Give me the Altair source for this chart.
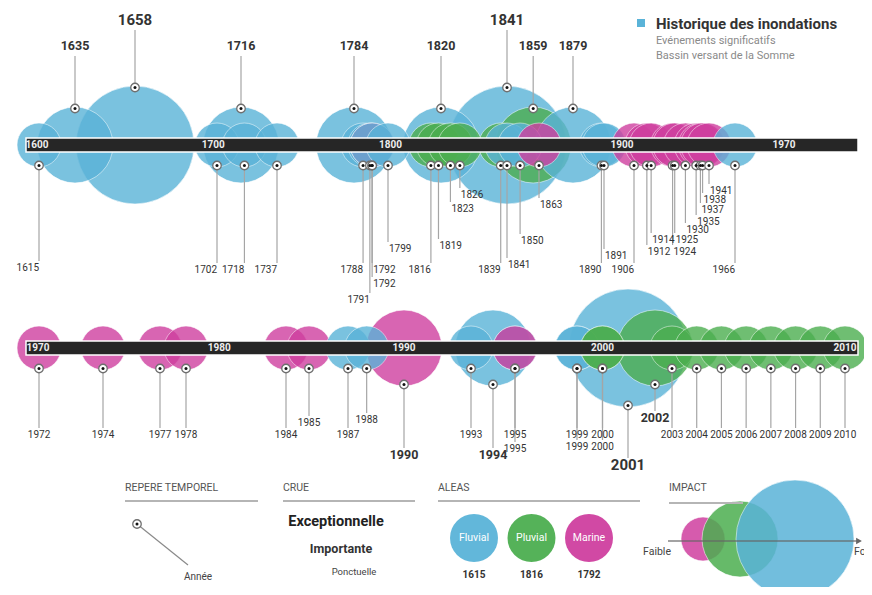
import altair as alt
import pandas as pd

# ---------------- data ----------------
# upper timeline (1600-1970)
top_years = [1615, 1635, 1658, 1702, 1716, 1718, 1737, 1784, 1788, 1791, 1792, 1792, 1799,
             1816, 1819, 1820, 1823, 1826, 1839, 1841, 1841, 1850, 1859, 1863, 1879,
             1890, 1891, 1906, 1912, 1914, 1924, 1925, 1930, 1935, 1937, 1938, 1941, 1966]
top_alea = ['F', 'F', 'F', 'F', 'F', 'F', 'F', 'F', 'F', 'F', 'M', 'F', 'F',
            'P', 'P', 'F', 'P', 'P', 'P', 'F', 'F', 'F', 'P', 'M', 'F',
            'F', 'F', 'M', 'M', 'M', 'M', 'M', 'M', 'M', 'M', 'M', 'M', 'F']
top_crue = ['p', 'i', 'e', 'p', 'i', 'p', 'p', 'i', 'p', 'p', 'p', 'p', 'p',
            'p', 'p', 'i', 'p', 'p', 'p', 'e', 'p', 'p', 'i', 'p', 'i',
            'p', 'p', 'p', 'p', 'p', 'p', 'p', 'p', 'p', 'p', 'p', 'p', 'p']
top_ticks = [1600, 1700, 1800, 1900, 1970]

# lower timeline (1970-2010)
bot_years = [1972, 1974, 1977, 1978, 1984, 1985, 1987, 1988, 1990, 1993, 1994, 1995, 1995,
             1999, 1999, 2000, 2000, 2001, 2002, 2003, 2004, 2005, 2006, 2007, 2008, 2009, 2010]
bot_alea = ['M', 'M', 'M', 'M', 'M', 'M', 'F', 'F', 'M', 'F', 'F', 'F', 'M',
            'F', 'F', 'P', 'P', 'F', 'P', 'P', 'P', 'P', 'P', 'P', 'P', 'P', 'P']
bot_crue = ['p', 'p', 'p', 'p', 'p', 'p', 'p', 'p', 'i', 'p', 'i', 'p', 'p',
            'p', 'p', 'p', 'p', 'e', 'i', 'p', 'p', 'p', 'p', 'p', 'p', 'p', 'p']
bot_ticks = [1970, 1980, 1990, 2000, 2010]

alea_names = ['Fluvial', 'Pluvial', 'Marine']
alea_examples = ['1615', '1816', '1792']
crue_names = ['Ponctuelle', 'Importante', 'Exceptionnelle']
impact_alea = ['Marine', 'Pluvial', 'Fluvial']

# ---------------- layout (label placement, scale anchors) ----------------
top_label_dy = [123, -99, -125, 125, -99, 125, 125, -99, 125, 155, 125, 139, 104,
                125, 101, -99, 64, 50, 125, -125, 120, 96, -99, 60, -99,
                125, 111, 125, 107, 95, 107, 95, 85, 77, 65, 55, 46, 125]
top_label_align = ['r', 'c', 'c', 'r', 'c', 'r', 'r', 'c', 'r', 'r', 'l', 'l', 'l',
                   'r', 'l', 'c', 'l', 'l', 'r', 'c', 'l', 'l', 'c', 'l', 'c',
                   'r', 'l', 'r', 'l', 'l', 'l', 'l', 'l', 'l', 'l', 'l', 'l', 'r']
bot_label_dy = [87, 87, 87, 87, 87, 75, 87, 72, 107, 87, 107, 101, 87,
                87, 99, 87, 99, 117, 70, 87, 87, 87, 87, 87, 87, 87, 87]
bot_label_align = ['c'] * len(bot_years)

top_anchor_years = [1600, 1615, 1635, 1658, 1702, 1737, 1784, 1799, 1820, 1841, 1863, 1879, 1891, 1906, 1941, 1966, 1970]
top_anchor_px = [29, 31, 67, 127, 209, 269, 346, 380, 433, 499, 531, 565, 596, 626, 701, 727, 776]
bot_anchor_years = [1970, 1972, 1974, 1977, 1978, 1984, 1985, 1987, 1990, 1993, 1995, 1999, 2001, 2002, 2003, 2010]
bot_anchor_px = [30, 31, 95, 152, 178, 278, 301, 340, 396, 463, 507, 569, 620, 647, 664, 837]

W, H = 856, 579
TOP_BASE, BOT_BASE = 137, 340
FONT = 'Roboto'
ALEA = {'F': 'Fluvial', 'P': 'Pluvial', 'M': 'Marine'}
CRUE = {'p': 'Ponctuelle', 'i': 'Importante', 'e': 'Exceptionnelle'}
RADIUS = {'Ponctuelle': 22, 'Importante': 38, 'Exceptionnelle': 59}
ZORD = {'Exceptionnelle': 0, 'Importante': 1, 'Ponctuelle': 2}

COLOR = alt.Scale(domain=alea_names, range=['#5ab3d8', '#4cae50', '#cf3f9f'])
YS = alt.Scale(domain=[0, H], range=[0, H], nice=False, zero=False)


def area(crue):
    # Vega circle symbol: radius = sqrt(size) / 2
    return (2 * RADIUS[crue]) ** 2


def events_frame(years, aleas, crues, dys, aligns, base):
    rows = []
    for y, a, c, dy, al in zip(years, aleas, crues, dys, aligns):
        crue = CRUE[c]
        r = RADIUS[crue] - 1.5
        above = dy < 0
        dot_y = base - r if above else base + r
        lab_y = base + dy
        l2 = lab_y + 10 if above else lab_y - 7
        rows.append(dict(year=y, alea=ALEA[a], crue=crue, label=str(y), dot_y=dot_y,
                         lab_y=lab_y, l2=l2, align=al, z=ZORD[crue], sz=area(crue)))
    return pd.DataFrame(rows)


def row_chart(df, ticks, ay, apx, base):
    xs = alt.Scale(domain=ay, range=apx, nice=False, zero=False)
    X = alt.X('year:Q', scale=xs, axis=None)
    circ = df.sort_values('z', kind='stable')
    circles = alt.Chart(circ).mark_circle(opacity=0.8, stroke='white', strokeWidth=1,
                                          strokeOpacity=0.6).encode(
        x=X, y=alt.value(base),
        color=alt.Color('alea:N', scale=COLOR, legend=None),
        size=alt.Size('sz:Q', scale=None, legend=None))
    bar = alt.Chart(pd.DataFrame({'k': [0]})).mark_rect(
        fill='#262626', stroke='white', strokeWidth=1.5).encode(
        x=alt.value(18), x2=alt.value(850), y=alt.value(base - 7), y2=alt.value(base + 7))
    tdf = pd.DataFrame({'year': ticks, 'label': [str(t) for t in ticks]})
    tick_txt = alt.Chart(tdf).mark_text(color='#eeeeee', fontWeight='bold', fontSize=10,
                                        font=FONT).encode(
        x=X, y=alt.value(base), text='label:N')
    rules = alt.Chart(df).mark_rule(color='#a5a5a5', strokeWidth=1.2).encode(
        x=X, y=alt.Y('dot_y:Q', scale=YS, axis=None), y2='l2:Q')
    dot_o = alt.Chart(df).mark_circle(size=72, fill='white', stroke='#6f6f6f',
                                      strokeWidth=1.3, opacity=1).encode(
        x=X, y=alt.Y('dot_y:Q', scale=YS, axis=None))
    dot_i = alt.Chart(df).mark_circle(size=9, color='#111111', opacity=1).encode(
        x=X, y=alt.Y('dot_y:Q', scale=YS, axis=None))

    def lab(expr, align, size, weight, dx):
        return alt.Chart(df).transform_filter(expr).mark_text(
            align=align, fontSize=size, fontWeight=weight, color='#333333',
            font=FONT, dx=dx).encode(
            x=X, y=alt.Y('lab_y:Q', scale=YS, axis=None), text='label:N')

    labels = [
        lab("datum.crue == 'Ponctuelle' && datum.align == 'r'", 'right', 10, 'normal', 0),
        lab("datum.crue == 'Ponctuelle' && datum.align == 'l'", 'left', 10, 'normal', 1),
        lab("datum.crue == 'Ponctuelle' && datum.align == 'c'", 'center', 10, 'normal', 0),
        lab("datum.crue == 'Importante'", 'center', 12.5, 'bold', 0),
        lab("datum.crue == 'Exceptionnelle'", 'center', 15, 'bold', 0),
    ]
    return alt.layer(circles, bar, tick_txt, rules, dot_o, dot_i, *labels)


top_df = events_frame(top_years, top_alea, top_crue, top_label_dy, top_label_align, TOP_BASE)
bot_df = events_frame(bot_years, bot_alea, bot_crue, bot_label_dy, bot_label_align, BOT_BASE)
top_chart = row_chart(top_df, top_ticks, top_anchor_years, top_anchor_px, TOP_BASE)
bot_chart = row_chart(bot_df, bot_ticks, bot_anchor_years, bot_anchor_px, BOT_BASE)

ONE = pd.DataFrame({'k': [0]})


def txt(text, x, y, size=10, weight='normal', color='#444444', align='left'):
    return alt.Chart(ONE).mark_text(text=text, fontSize=size, fontWeight=weight, color=color,
                                    align=align, font=FONT).encode(
        x=alt.value(x), y=alt.value(y))


def hline(x1, x2, y, color='#b5b5b5', w=2):
    return alt.Chart(ONE).mark_rule(color=color, strokeWidth=w).encode(
        x=alt.value(x1), x2=alt.value(x2), y=alt.value(y))


# title
title = [
    alt.Chart(ONE).mark_point(shape='square', filled=True, size=64, color='#5ab3d8',
                              opacity=1).encode(x=alt.value(633), y=alt.value(15)),
    txt('Historique des inondations', 648, 16, 15, 'bold', '#333333'),
    txt('Evénements significatifs', 648, 33, 11, 'normal', '#8a8a8a'),
    txt('Bassin versant de la Somme', 648, 48, 11, 'normal', '#8a8a8a'),
]

# legend: headers
legend = [
    txt('REPERE TEMPOREL', 117, 480, 10.5, 'normal', '#555555'),
    txt('CRUE', 275, 480, 10.5, 'normal', '#555555'),
    txt('ALEAS', 430, 480, 10.5, 'normal', '#555555'),
    txt('IMPACT', 661, 480, 10.5, 'normal', '#555555'),
    hline(117, 250, 493), hline(275, 407, 493), hline(430, 632, 493), hline(661, 735, 495),
    # repere temporel
    alt.Chart(ONE).mark_rule(color='#8a8a8a', strokeWidth=1.2).encode(
        x=alt.value(129), y=alt.value(516), x2=alt.value(180), y2=alt.value(557)),
    alt.Chart(ONE).mark_circle(size=72, fill='white', stroke='#6f6f6f', strokeWidth=1.3,
                               opacity=1).encode(x=alt.value(129), y=alt.value(516)),
    alt.Chart(ONE).mark_circle(size=9, color='#111111', opacity=1).encode(
        x=alt.value(129), y=alt.value(516)),
    txt('Année', 190, 569, 10, 'normal', '#444444', 'center'),
    # crue
    txt('Exceptionnelle', 328, 514, 14.5, 'bold', '#222222', 'center'),
    txt('Importante', 333, 541, 12.5, 'bold', '#333333', 'center'),
    txt('Ponctuelle', 346, 564, 9.5, 'normal', '#444444', 'center'),
]

# aleas circles
alea_df = pd.DataFrame({'slot': [0, 1, 2], 'alea': alea_names, 'ex': alea_examples})
AX = alt.X('slot:Q', scale=alt.Scale(domain=[0, 2], range=[466, 581], nice=False, zero=False),
           axis=None)
alea_layer = alt.layer(
    alt.Chart(alea_df).mark_circle(size=2304, opacity=0.95).encode(
        x=AX, y=alt.value(530), color=alt.Color('alea:N', scale=COLOR, legend=None)),
    alt.Chart(alea_df).mark_text(color='white', fontSize=10.5, font=FONT).encode(
        x=AX, y=alt.value(530), text='alea:N'),
    alt.Chart(alea_df).mark_text(color='#333333', fontSize=10, fontWeight='bold',
                                 font=FONT).encode(
        x=AX, y=alt.value(567), text='ex:N'),
)

# impact circles
imp_df = pd.DataFrame({'slot': [0, 1, 2], 'alea': impact_alea, 'crue': crue_names})
imp_df['sz'] = [area(c) for c in crue_names]
IX = alt.X('slot:Q', scale=alt.Scale(domain=[0, 1, 2], range=[695, 732, 787], nice=False,
                                     zero=False), axis=None)
impact_layer = alt.layer(
    alt.Chart(imp_df).mark_circle(opacity=0.85, stroke='white', strokeWidth=1,
                                  strokeOpacity=0.6).encode(
        x=IX, y=alt.value(531), color=alt.Color('alea:N', scale=COLOR, legend=None),
        size=alt.Size('sz:Q', scale=None, legend=None)),
)
impact_deco = [
    alt.Chart(ONE).mark_rule(color='#666666', strokeWidth=1.3, opacity=0.8).encode(
        x=alt.value(660), x2=alt.value(849), y=alt.value(533)),
    alt.Chart(ONE).mark_point(shape='triangle-right', filled=True, size=45, color='#666666',
                              opacity=1).encode(x=alt.value(851), y=alt.value(533)),
    txt('Faible', 649, 544, 10.5, 'normal', '#444444', 'center'),
    txt('Fort', 846, 544, 10.5, 'normal', '#444444', 'left'),
]

chart = alt.layer(
    top_chart, bot_chart, alea_layer, impact_layer, *impact_deco, *legend, *title
).resolve_scale(x='independent').properties(
    width=W, height=H, padding=0, background='white',
    autosize=alt.AutoSizeParams(type='none')
).configure_view(strokeWidth=0)

chart.save("out.html", embed_options={"renderer": "svg", "actions": False})
